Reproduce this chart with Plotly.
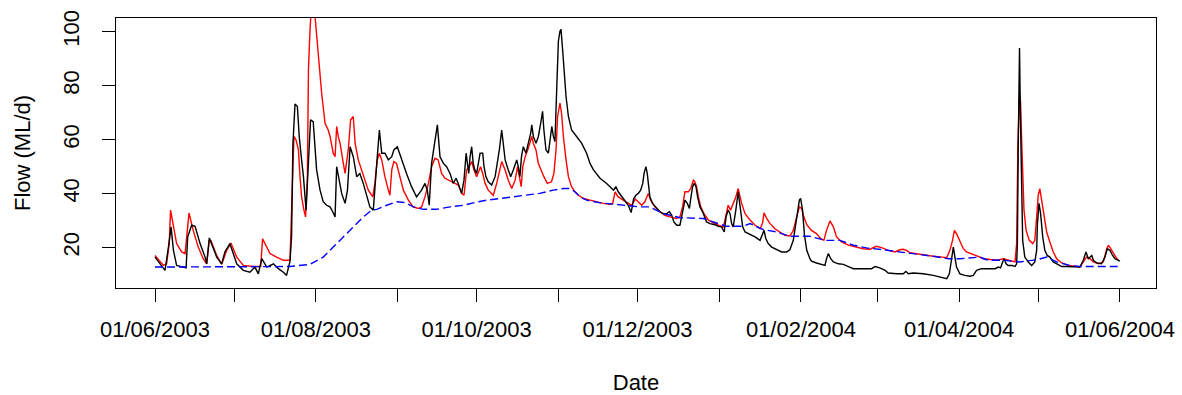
import pandas as pd
import plotly.graph_objects as go

START = pd.Timestamp("2003-06-01")

# Observed flow (black) : day offset from 01/06/2003, flow ML/d
obs_day = [0.0, 3.2, 3.8, 5.1, 6.1, 7.0, 8.2, 10.7, 11.8, 12.4, 13.9, 15.2, 17.1, 19.0, 19.6, 20.6,
           23.4, 25.3, 26.5, 28.4, 31.0, 33.5, 36.0, 37.9, 39.2, 40.5, 42.4, 44.9, 46.8, 48.7, 49.9,
           51.2, 51.8, 52.3, 53.1, 54.0, 54.7, 55.6, 56.3, 57.3, 57.9, 58.5, 59.0, 60.0, 60.7, 61.3,
           62.6, 63.8, 65.1, 66.4, 67.4, 68.3, 68.9, 69.9, 70.8, 72.1, 73.0, 74.0, 75.2, 76.5, 77.7,
           79.0, 80.3, 81.5, 82.8, 83.8, 84.3, 85.1, 86.0, 87.2, 88.5, 89.8, 90.6, 91.9, 93.5, 95.4,
           97.3, 99.2, 101.1, 102.4, 103.3, 104.0, 104.9, 105.9, 107.1, 108.1, 109.4, 110.6, 111.9,
           113.1, 114.2, 115.0, 116.3, 117.2, 118.0, 118.5, 119.0, 119.5, 120.1, 120.7, 121.3, 122.0,
           122.6, 123.3, 124.3, 124.8, 125.5, 126.4, 127.7, 129.0, 129.6, 130.6, 131.5, 132.1, 132.8,
           134.0, 134.9, 135.9, 137.2, 137.8, 138.4, 139.0, 139.7, 140.7, 141.6, 142.5, 142.9, 143.5,
           144.5, 145.4, 146.3, 147.0, 147.5, 148.3, 149.2, 149.8, 150.5, 151.1, 151.7, 152.4, 153.0,
           153.6, 154.0, 154.6, 155.2, 155.9, 156.8, 158.0, 159.9, 161.8, 163.7, 165.0, 166.3, 168.8,
           171.3, 173.9, 174.8, 175.7, 177.6, 179.5, 180.6, 181.5, 182.4, 183.3, 184.2, 185.0, 185.5,
           186.2, 186.7, 187.1, 187.7, 188.7, 190.3, 191.5, 192.8, 194.1, 195.1, 196.0, 196.8, 197.9,
           199.1, 200.1, 201.0, 201.9, 202.7, 203.3, 203.9, 204.5, 205.2, 205.8, 206.7, 208.0, 209.2,
           210.5, 212.4, 213.6, 214.9, 215.9, 216.6, 217.4, 218.1, 218.7, 219.3, 220.3, 221.2, 222.1,
           222.9, 223.8, 225.7, 227.6, 229.5, 230.5, 231.0, 231.7, 232.6, 233.9, 235.8, 237.7, 239.6,
           240.8, 242.1, 243.4, 244.4, 244.9, 245.6, 246.3, 247.2, 248.4, 249.0, 250.9, 252.8, 254.1,
           254.7, 255.4, 256.3, 257.3, 259.2, 261.1, 263.0, 264.9, 268.6, 271.8, 273.1, 274.9, 276.9,
           278.1, 281.3, 283.8, 284.8, 285.7, 287.6, 291.4, 295.2, 297.7, 300.3, 301.3, 302.2, 302.8,
           303.4, 304.0, 305.3, 307.2, 309.1, 310.4, 311.6, 313.5, 316.1, 318.6, 319.9, 320.7, 321.5,
           322.1, 322.8, 323.6, 324.9, 326.2, 326.8, 327.1, 327.4, 327.7, 327.9, 328.2, 328.6, 329.1,
           329.9, 331.2, 332.5, 333.7, 334.4, 334.7, 335.3, 335.9, 336.7, 337.5, 338.4, 339.4, 340.7,
           342.2, 343.9, 345.8, 347.7, 349.6, 350.8, 352.1, 353.1, 354.0, 354.6, 355.3, 355.9, 357.1,
           359.0, 360.3, 361.2, 362.2, 363.2, 364.1, 365.4, 366.0]
obs_flow = [16.5, 12.2, 11.6, 20.2, 27.7, 19.0, 13.4, 12.8, 12.5, 24.0, 28.3, 27.9, 21.5, 16.5, 14.0, 23.6,
            16.5, 14.0, 18.4, 21.5, 14.0, 11.6, 10.9, 12.8, 10.3, 15.9, 12.8, 14.0, 12.2, 10.9, 9.7,
            15.0, 24.0, 58.0, 73.2, 72.3, 61.2, 52.5, 46.3, 33.9, 46.3, 55.0, 67.4, 66.7, 56.2, 48.8,
            41.3, 37.0, 35.7, 35.1, 33.3, 31.4, 50.0, 45.0, 40.1, 36.4, 41.3, 57.4, 53.7, 46.3, 47.5,
            43.8, 38.8, 35.1, 33.9, 48.8, 53.7, 63.6, 55.0, 55.0, 52.5, 53.7, 56.2, 57.4, 52.5, 47.5,
            42.6, 38.8, 41.3, 43.8, 41.3, 35.7, 51.2, 57.4, 65.5, 53.7, 51.2, 50.0, 47.5,
            43.8, 45.7, 43.8, 40.1, 45.0, 55.0, 51.2, 47.5, 53.7, 57.4, 51.2, 48.8, 47.5,
            51.2, 55.0, 55.0, 50.0, 46.3, 44.4, 43.2, 46.3, 50.0, 56.2, 63.6, 57.4, 52.5,
            48.8, 46.3, 48.8, 52.5, 50.0, 46.3, 53.7, 57.4, 55.0, 58.7, 62.4, 65.5, 61.2,
            58.7, 61.2, 66.1, 70.5, 63.6, 56.2, 55.0, 59.9, 64.9, 61.2, 59.3, 79.8, 96.5,
            100.2, 100.9, 93.4, 84.7, 76.0, 68.6, 63.6, 61.2, 58.7, 55.0, 51.2, 48.8, 45.7,
            43.8, 41.3, 42.6, 40.7, 38.2, 35.7, 33.0, 38.0, 39.4, 40.1, 41.3, 43.8, 47.5,
            50.0, 47.5, 43.8, 38.8, 36.4, 34.5, 33.3, 32.6, 32.6, 33.3, 32.0, 29.5, 28.3,
            28.3, 33.9, 37.6, 36.4, 34.5, 38.8, 42.6, 43.8, 42.6, 38.8, 35.1, 32.6, 29.5,
            28.9, 28.5, 27.9, 27.7, 25.8, 31.4, 33.9, 32.6, 28.9, 27.7, 33.9, 40.7, 33.9,
            27.7, 25.8, 25.0, 24.0, 22.7, 25.2, 26.4, 23.3, 21.5, 20.2, 19.2, 18.4, 18.4,
            19.2, 22.7, 31.4, 37.6, 38.2, 33.9, 25.0, 19.0, 15.9, 15.0, 14.3, 13.8, 13.4,
            15.9, 17.8, 15.9, 14.7, 14.0, 13.8, 13.0, 12.2, 12.2, 12.2, 13.0, 12.5, 11.6,
            10.6, 10.3, 10.3, 11.2, 10.3, 10.6, 10.3, 9.7, 9.1, 8.5, 10.3, 15.3, 20.2,
            16.5, 12.8, 10.3, 9.7, 9.4, 9.7, 11.6, 12.2, 12.2, 12.2, 12.8, 12.5, 14.7,
            15.9, 14.0, 13.4, 13.4, 13.0, 14.0, 21.5, 56.2, 83.5, 94.0, 71.1, 41.3, 22.7,
            16.5, 14.7, 13.4, 14.7, 19.0, 28.9, 36.4, 32.6, 24.0, 19.0, 17.1, 16.5, 14.7,
            13.8, 13.0, 13.0, 13.0, 13.0, 12.8, 15.3, 18.4, 15.9, 16.5, 17.1, 15.3, 14.4,
            14.0, 16.5, 19.6, 19.0, 17.1, 15.9, 15.3, 15.0]

# Modelled flow (red)
sim_day = [0.0, 1.9, 3.2, 4.4, 5.4, 5.9, 7.0, 8.2, 10.1, 11.4, 12.4, 12.9, 14.5, 16.4, 18.3, 19.6,
           20.6, 21.2, 23.4, 25.3, 27.2, 28.8, 31.0, 33.5, 37.3, 40.1, 40.8, 43.6, 46.1, 48.7, 51.2,
           51.8, 52.7, 53.5, 54.4, 55.0, 55.6, 56.5, 57.1, 57.8, 58.2, 58.8, 59.5, 60.5, 61.1, 62.0,
           63.2, 64.5, 65.7, 66.4, 67.6, 68.3, 68.9, 69.5, 70.2, 71.2, 72.1, 73.3, 74.2, 75.2, 75.9,
           77.1, 78.4, 79.6, 80.9, 82.6, 83.4, 84.3, 85.1, 86.0, 87.2, 88.5, 89.1, 89.8, 90.6, 91.6,
           92.9, 94.2, 96.1, 97.9, 99.9, 101.1, 102.4, 103.7, 104.9, 106.2, 107.4, 108.7, 110.0,
           111.2, 112.5, 113.8, 115.0, 116.3, 117.2, 118.2, 119.2, 120.1, 121.0, 122.0, 123.0, 123.5,
           124.3, 125.2, 126.4, 128.3, 129.6, 130.6, 131.5, 132.8, 134.0, 135.3, 136.6, 137.5, 138.2,
           138.9, 139.5, 140.4, 141.6, 142.9, 143.5, 144.5, 145.4, 146.3, 147.5, 148.8, 150.4, 151.3,
           152.1, 152.7, 153.6, 154.2, 154.9, 155.9, 156.8, 158.0, 159.3, 160.6, 162.5, 165.0, 167.5,
           170.0, 172.6, 173.6, 174.5, 175.7, 177.6, 179.5, 180.8, 182.2, 183.3, 184.6, 185.8, 187.1,
           188.0, 189.6, 191.5, 193.4, 195.3, 197.8, 199.1, 200.1, 201.0, 202.3, 203.2, 204.2, 204.8,
           205.4, 206.1, 207.0, 208.2, 209.9, 211.8, 213.6, 215.6, 216.6, 217.4, 218.3, 219.3, 220.3,
           221.2, 222.5, 223.8, 225.7, 227.6, 229.5, 230.4, 231.0, 232.0, 233.3, 235.1, 237.0, 238.9,
           240.8, 242.1, 243.4, 244.4, 245.3, 245.9, 247.2, 248.4, 249.0, 250.9, 252.5, 253.7, 254.7,
           256.0, 257.3, 258.5, 260.4, 263.0, 265.5, 268.6, 271.2, 273.5, 275.6, 278.1, 280.7, 282.5,
           283.8, 285.1, 286.3, 290.1, 295.2, 300.3, 301.5, 302.5, 303.2, 304.0, 305.3, 306.6, 307.8,
           309.7, 311.6, 312.9, 314.2, 316.7, 319.2, 321.7, 323.0, 324.9, 326.2, 326.8, 327.3, 327.9,
           328.3, 328.7, 329.1, 329.6, 330.4, 331.6, 332.9, 333.7, 334.4, 335.0, 335.6, 336.3, 337.2,
           338.2, 339.4, 340.7, 342.0, 343.9, 346.4, 349.0, 350.8, 352.1, 353.3, 354.6, 355.9, 357.8,
           359.7, 361.0, 361.6, 362.5, 363.5, 364.8, 365.4]
sim_flow = [17.1, 14.7, 13.4, 14.0, 21.5, 33.9, 27.7, 21.5, 18.4, 17.8, 27.7, 32.9, 26.4, 20.2, 15.9, 14.0,
            22.7, 22.7, 17.1, 13.8, 19.0, 21.7, 16.5, 13.4, 13.0, 13.0, 23.3, 17.8, 16.5, 15.3, 15.3,
            36.4, 61.2, 59.9, 56.2, 46.3, 38.8, 33.9, 31.4, 46.3, 86.0, 100.9, 112.0, 108.0, 100.9, 89.7,
            77.3, 66.1, 63.6, 61.2, 55.0, 53.7, 64.9, 61.2, 58.7, 52.5, 47.5, 56.2, 67.4, 68.6, 58.7,
            52.5, 48.8, 45.0, 41.3, 38.8, 43.8, 52.5, 55.0, 52.5, 46.3, 41.3, 39.4, 48.8, 51.9, 51.2,
            46.3, 41.3, 37.6, 35.1, 34.5, 35.1, 38.8, 43.8, 50.0, 53.1, 52.5, 47.5, 45.7,
            45.0, 44.4, 43.8, 43.2, 40.1, 39.4, 48.8, 50.0, 51.9, 48.8, 46.3, 48.8, 50.0,
            47.5, 43.8, 41.3, 39.4, 43.8, 48.8, 51.9, 48.8, 45.0, 41.9, 45.0, 50.0, 46.9,
            42.6, 50.0, 53.7, 56.8, 61.2, 58.7, 56.2, 51.2, 48.8, 46.3, 43.8, 44.4, 47.5,
            56.2, 68.6, 73.6, 69.8, 61.2, 52.5, 46.3, 42.6, 40.7, 39.4, 38.2, 37.6, 37.0,
            36.4, 36.1, 36.4, 40.7, 38.8, 37.6, 36.4, 35.7, 38.0, 37.0, 35.7, 37.0, 40.1,
            37.6, 35.1, 33.3, 32.0, 31.4, 30.8, 31.4, 35.1, 40.7, 40.7, 41.9, 45.0, 44.4,
            42.6, 38.8, 35.1, 32.6, 30.2, 29.2, 28.3, 27.7, 32.6, 35.7, 33.9, 36.4, 38.8,
            41.9, 36.4, 32.6, 30.2, 28.3, 27.0, 28.9, 32.9, 30.8, 28.9, 27.0, 25.8, 24.6,
            24.3, 26.4, 31.4, 35.1, 34.5, 32.0, 28.5, 26.8, 26.4, 25.2, 23.3, 22.7, 26.4,
            29.9, 27.7, 24.0, 22.1, 20.9, 20.2, 19.6, 19.4, 20.5, 20.0, 19.0, 18.4, 19.2,
            19.4, 19.0, 18.1, 17.5, 16.8, 16.3, 19.0, 22.7, 26.4, 25.2, 22.7, 19.6, 18.4,
            17.8, 17.1, 16.5, 15.9, 15.5, 15.3, 15.9, 15.5, 15.0, 14.7, 21.5, 58.7, 76.5,
            74.0, 60.0, 46.0, 33.9, 26.4, 22.7, 21.5, 22.7, 31.4, 39.4, 41.9, 37.6, 31.4,
            25.8, 22.1, 18.4, 15.9, 14.3, 13.4, 13.0, 12.8, 14.7, 16.5, 15.9, 14.7, 14.0,
            14.7, 19.6, 20.9, 19.6, 17.8, 15.9, 15.5]

# Baseflow (blue dashed)
base_day = [0.0, 30.0, 51.2, 58.8, 63.8, 67.6, 71.4, 75.2, 79.0, 82.2, 84.1, 87.9, 91.7, 94.8, 98.0,
            101.8, 106.8, 111.9, 117.0, 120.7, 125.8, 130.8, 135.9, 140.9, 145.9, 151.0, 154.9, 157.4,
            159.3, 161.2, 163.7, 168.8, 173.9, 178.9, 184.0, 187.7, 192.8, 199.1, 208.0, 211.8, 216.8,
            223.1, 225.7, 230.7, 235.8, 240.8, 248.4, 254.1, 259.8, 264.9, 269.9, 276.2, 282.5, 288.9,
            295.2, 300.9, 305.3, 312.9, 315.4, 321.7, 328.0, 334.4, 338.2, 342.0, 347.1, 350.8, 357.1,
            366.0]
base_flow = [12.8, 13.0, 13.0, 13.8, 16.5, 20.2, 24.0, 27.7, 31.4, 33.9, 34.2, 35.7, 37.0, 36.7, 35.1,
             34.2, 34.2, 35.1, 35.7, 36.6, 37.6, 38.2, 38.8, 39.4, 40.1, 41.3, 41.9, 41.9,
             40.7, 38.8, 37.6, 36.6, 36.1, 35.7, 35.1, 35.1, 32.6, 31.1, 30.8, 29.5, 27.9,
             27.9, 28.9, 26.7, 25.8, 24.2, 24.2, 22.7, 22.7, 20.9, 19.9, 19.2, 18.4, 17.8,
             16.8, 15.9, 15.9, 16.5, 15.5, 15.3, 14.7, 15.5, 16.5, 14.7, 13.4, 13.0, 13.0,
             13.0]

# Axis ticks
tick_dates = ["2003-06-01", "2003-07-01", "2003-08-01", "2003-09-01", "2003-10-01", "2003-11-01",
              "2003-12-01", "2004-01-01", "2004-02-01", "2004-03-01", "2004-04-01", "2004-05-01",
              "2004-06-01"]
tick_labels = ["01/06/2003", "", "01/08/2003", "", "01/10/2003", "", "01/12/2003", "",
               "01/02/2004", "", "01/04/2004", "", "01/06/2004"]
y_ticks = [20, 40, 60, 80, 100]


def to_dates(days):
    return START + pd.to_timedelta(days, unit="D")


fig = go.Figure()
fig.add_trace(go.Scatter(x=to_dates(sim_day), y=sim_flow, mode="lines",
                         line=dict(color="#FF0000", width=1.4), name="Modelled"))
fig.add_trace(go.Scatter(x=to_dates(obs_day), y=obs_flow, mode="lines",
                         line=dict(color="#000000", width=1.4), name="Observed"))
fig.add_trace(go.Scatter(x=to_dates(base_day), y=base_flow, mode="lines",
                         line=dict(color="#0000FF", width=1.4, dash="8px,4px"), name="Baseflow"))

font = dict(family="Liberation Sans, Arial, sans-serif", size=22, color="#000000")

fig.update_layout(
    width=1182, height=395,
    margin=dict(l=116, r=26, t=18, b=107),
    plot_bgcolor="white", paper_bgcolor="white",
    showlegend=False,
    font=font,
    xaxis=dict(
        type="date", automargin=False,
        range=["2003-05-17 05:00", "2004-06-14 16:00"],
        tickmode="array", tickvals=tick_dates, ticktext=tick_labels,
        ticks="outside", ticklen=13, tickwidth=1, tickcolor="#000",
        showline=True, linecolor="#000", linewidth=1.3, mirror=True,
        showgrid=False, zeroline=False,
        tickfont=font, ticklabelstandoff=8,
        title=dict(text="Date", font=font, standoff=36),
    ),
    yaxis=dict(
        automargin=False,
        range=[5.04, 105.1],
        tickmode="array", tickvals=y_ticks, ticktext=[str(v) for v in y_ticks],
        ticks="outside", ticklen=13, tickwidth=1, tickcolor="#000",
        tickangle=-90,
        showline=True, linecolor="#000", linewidth=1.3, mirror=True,
        showgrid=False, zeroline=False,
        tickfont=font, ticklabelstandoff=14,
        title=dict(text="Flow (ML/d)", font=font, standoff=22),
    ),
)

fig.write_html("out.html")
